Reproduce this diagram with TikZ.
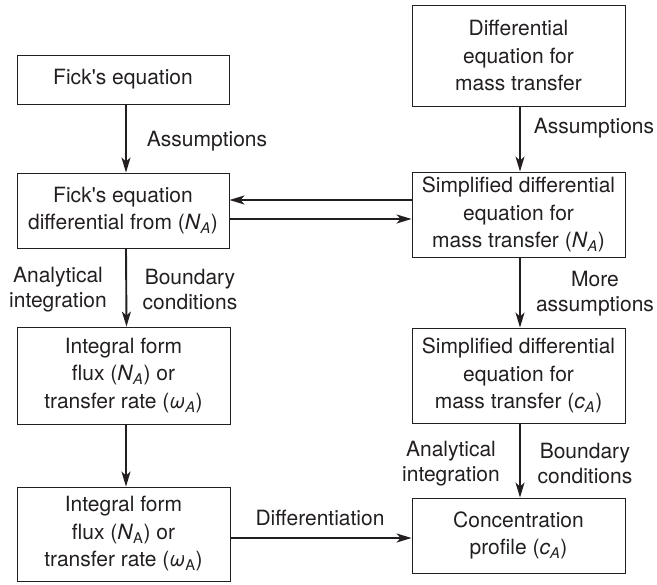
\documentclass[tikz,border=0pt]{standalone}
\usepackage{fontspec}
\setmainfont{TeX Gyre Heros}[Ligatures=TeXOff]
\usetikzlibrary{arrows.meta}
\definecolor{ink}{HTML}{231F20}
\tikzset{
  box/.style={draw=ink, line width=0.9pt, align=center, inner sep=0pt, text=ink,
    font=\fontsize{21}{27.5}\selectfont},
  lbl/.style={align=center, inner sep=0pt, text=ink, font=\fontsize{21}{25}\selectfont},
  arr/.style={draw=ink, line width=1.9pt, -{Stealth[length=15pt,width=9pt,inset=4pt]}},
}
\newcommand{\sub}[1]{\textsubscript{#1}}
\begin{document}
\begin{tikzpicture}[x=1pt,y=-1pt]
\useasboundingbox (0,0) rectangle (657,585);
% left column
\node[box, minimum width=212pt, minimum height=49pt] (A) at (123,79.5) {Fick's equation};
\node[box, minimum width=212pt, minimum height=75pt] (B) at (123,210.5) {Fick's equation\\differential from (\textit{N}\sub{\textit{A}})};
\node[box, minimum width=213pt, minimum height=97pt] (C) at (123.5,375.5) {Integral form\\flux (\textit{N}\sub{\textit{A}}) or\\transfer rate (\textit{ω}\sub{\textit{A}})};
\node[box, minimum width=213pt, minimum height=94pt] (D) at (123.5,534) {Integral form\\flux (\textit{N}\sub{A}) or\\transfer rate (\textit{ω}\sub{A})};
% right column
\node[box, minimum width=213pt, minimum height=101pt] (E) at (518.5,55.5) {Differential\\equation for\\mass transfer};
\node[box, minimum width=213pt, minimum height=85pt] (F) at (518.5,214.5) {Simplified differential\\equation for\\mass transfer (\textit{N}\sub{\textit{A}})};
\node[box, minimum width=213pt, minimum height=95pt] (G) at (518.5,375.5) {Simplified differential\\equation for\\mass transfer (\textit{c}\sub{\textit{A}})};
\node[box, minimum width=213pt, minimum height=75pt] (H) at (518.5,535.5) {Concentration\\profile (\textit{c}\sub{\textit{A}})};
% labels
\node[lbl] (l1) at (207,141) {Assumptions};
\node[lbl] (l2) at (594,128) {Assumptions};
\node[lbl] (l3) at (58,290) {Analytical\\integration};
\node[lbl] (l4) at (190,290) {Boundary\\conditions};
\node[lbl] (l5) at (595,294) {More\\assumptions};
\node[lbl] (l6) at (451,464) {Analytical\\integration};
\node[lbl] (l7) at (585,464) {Boundary\\conditions};
\node[lbl] (l8) at (320,518) {Differentiation};
% connectors
\draw[arr] ([xshift=3pt]A.south) -- ([xshift=3pt]B.north);
\draw[arr] ([xshift=3pt]B.south) -- ([xshift=3pt]C.north);
\draw[arr] ([xshift=2.5pt]C.south) -- ([xshift=2.5pt]D.north);
\draw[arr] ([xshift=1.5pt]E.south) -- ([xshift=1.5pt]F.north);
\draw[arr] ([xshift=1.5pt]F.south) -- ([xshift=1.5pt]G.north);
\draw[arr] ([xshift=1.5pt]G.south) -- ([xshift=1.5pt]H.north);
\draw[arr] (F.west |- 0,200) -- (B.east |- 0,200);
\draw[arr] (B.east |- 0,219) -- (F.west |- 0,219);
\draw[arr] (D.east |- 0,538) -- (H.west |- 0,538);
\end{tikzpicture}
\end{document}
